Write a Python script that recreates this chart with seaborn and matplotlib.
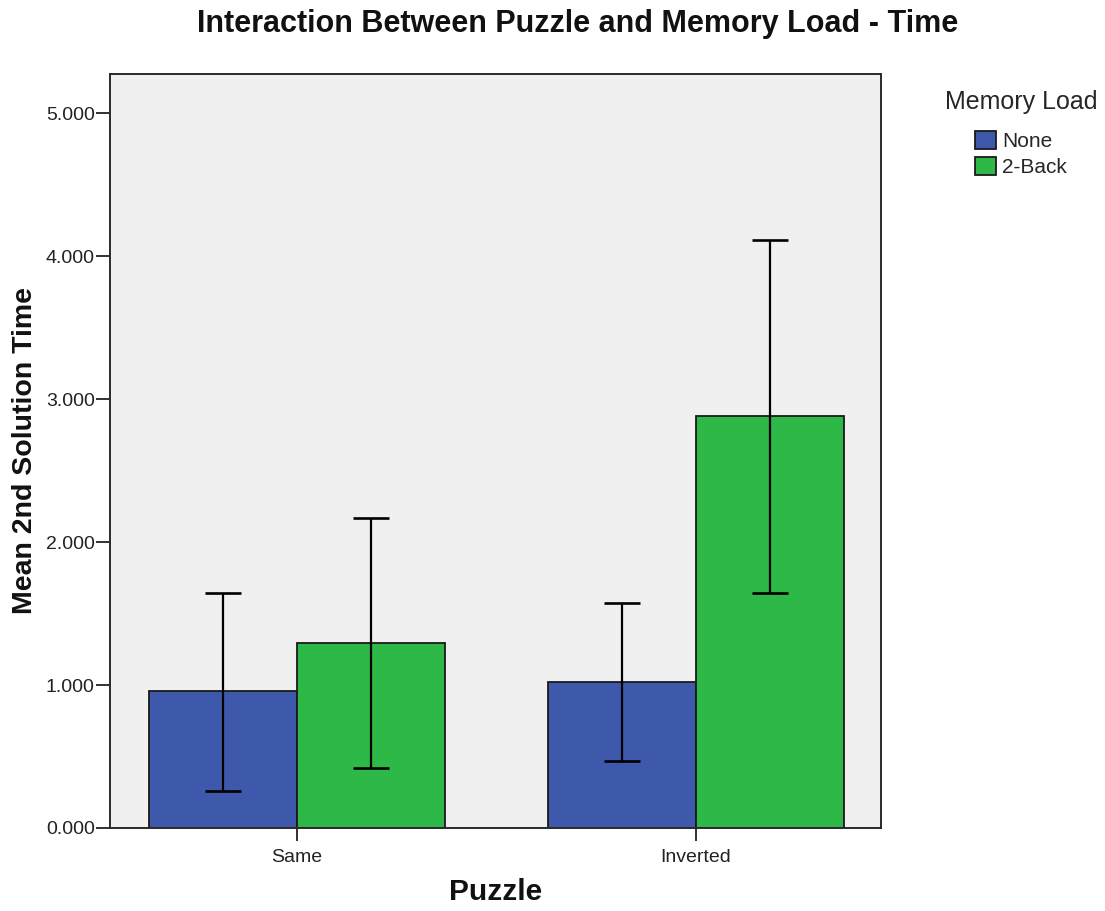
import matplotlib
matplotlib.use("Agg")
import matplotlib.pyplot as plt
import seaborn as sns
import pandas as pd
import numpy as np

# ---- data ----
puzzles = ["Same", "Inverted"]
loads = ["None", "2-Back"]
mean_none = [0.955, 1.021]
mean_2back = [1.297, 2.881]
ci_low_none = [0.259, 0.469]
ci_high_none = [1.643, 1.573]
ci_low_2back = [0.422, 1.643]
ci_high_2back = [2.168, 4.112]
yticks = [0, 1, 2, 3, 4, 5]

colors = ["#3E58AC", "#2EB848"]

sns.set_theme(style="white")
plt.rcParams["font.family"] = ["Liberation Sans", "DejaVu Sans"]

df = pd.DataFrame({
    "Puzzle": puzzles * 2,
    "Memory Load": [loads[0]] * 2 + [loads[1]] * 2,
    "Mean": mean_none + mean_2back,
})

fig = plt.figure(figsize=(11.05, 9.11), dpi=100)
ax = fig.add_axes([110 / 1105, 1 - 828 / 911, (881 - 110) / 1105, (828 - 74) / 911])
ax.set_facecolor("#F0F0F0")

sns.barplot(data=df, x="Puzzle", y="Mean", hue="Memory Load", order=puzzles,
            hue_order=loads, palette=colors, width=0.74, errorbar=None,
            edgecolor="#1a1a1a", linewidth=1.3, saturation=1, ax=ax)

lows = [ci_low_none, ci_low_2back]
highs = [ci_high_none, ci_high_2back]
for cont, lo, hi in zip(ax.containers, lows, highs):
    for bar, l, h in zip(cont, lo, hi):
        xc = bar.get_x() + bar.get_width() / 2
        m = bar.get_height()
        ax.errorbar([xc], [m], yerr=[[m - l], [h - m]], fmt="none",
                    ecolor="black", elinewidth=1.6, capsize=13.3, capthick=1.9,
                    zorder=5)

ax.set_xlim(-0.469, 1.464)
ax.set_ylim(0, 5.273)
ax.set_yticks(yticks)
ax.set_yticklabels([f"{v:.3f}" for v in yticks], fontsize=14, color="#222222")
ax.set_xticklabels(puzzles, fontsize=14, color="#222222")
ax.tick_params(axis="y", which="major", length=10, width=1.3, color="#222222",
               direction="out", left=True, pad=1)
ax.tick_params(axis="x", which="major", length=9.5, width=1.3, color="#222222",
               direction="out", bottom=True, pad=5.5)
for s in ax.spines.values():
    s.set_color("#2a2a2a")
    s.set_linewidth(1.4)

ax.set_xlabel("Puzzle", fontsize=21.5, fontweight="bold", labelpad=9, color="#111111")
ax.set_ylabel("Mean 2nd Solution Time", fontsize=20.5, fontweight="bold", labelpad=5.5,
              color="#111111")

fig.text(578 / 1105, 1 - 24 / 911, "Interaction Between Puzzle and Memory Load - Time",
         ha="center", va="center", fontsize=22, fontweight="bold", color="#111111")

leg = ax.legend(title="Memory Load", loc="upper left",
                bbox_to_anchor=(945 / 1105, 1 - 90 / 911), bbox_transform=fig.transFigure,
                frameon=False, fontsize=15, title_fontsize=18,
                handlelength=1.0, handleheight=1.0, handletextpad=0.3,
                labelspacing=0.27, borderaxespad=0, borderpad=0.0)
leg._legend_box.sep = 12
for h in leg.legend_handles:
    h.set_edgecolor("#1a1a1a")
    h.set_linewidth(1.3)

fig.savefig("out.png", dpi=100)
